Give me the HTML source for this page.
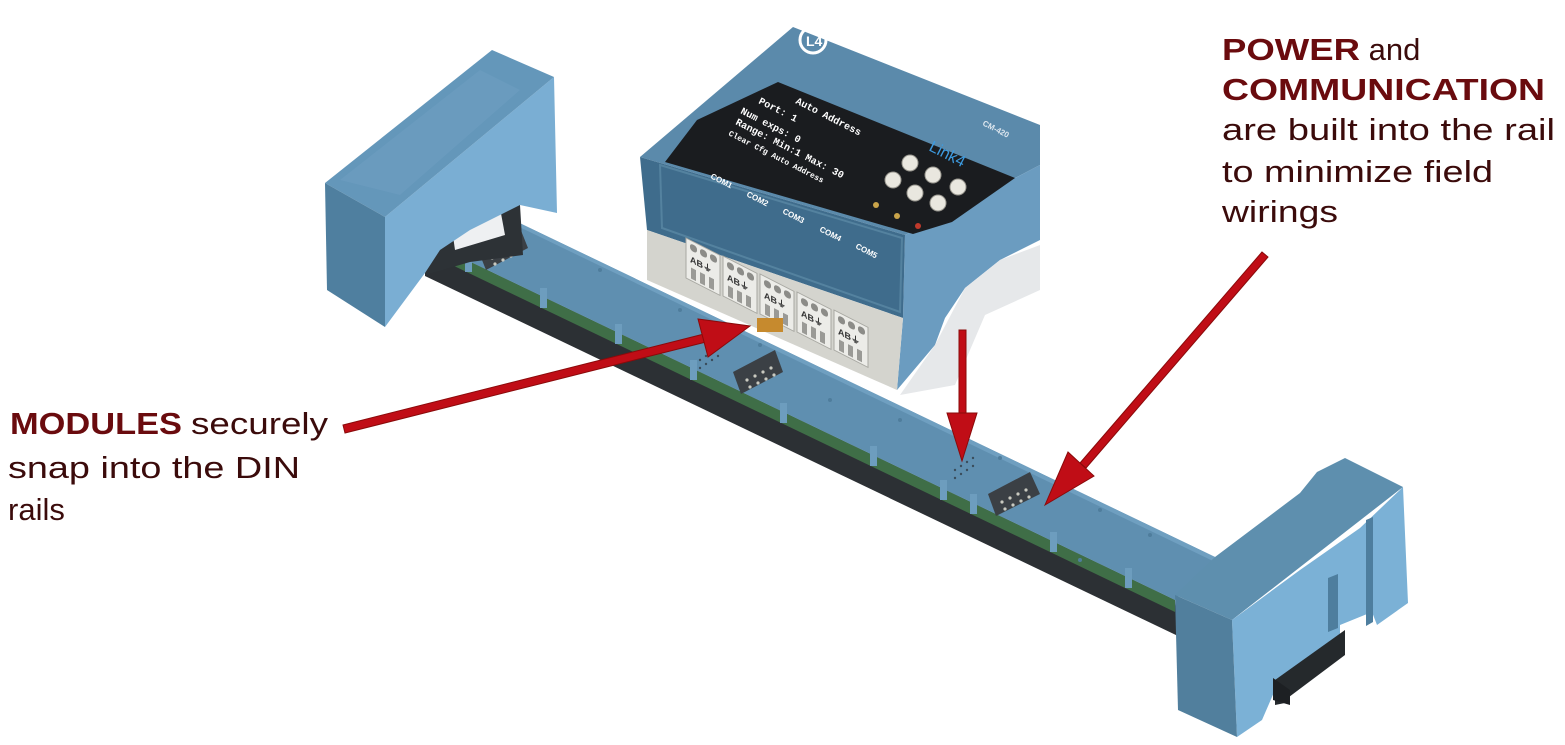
<!DOCTYPE html>
<html><head><meta charset="utf-8"><style>
html,body{margin:0;padding:0;background:#fff;}
svg{display:block;}
</style></head><body>
<svg width="1565" height="745" viewBox="0 0 1565 745" xmlns="http://www.w3.org/2000/svg" font-family="'Liberation Sans', sans-serif">
<rect width="1565" height="745" fill="#fff"/>

<!-- RAIL -->
<polygon points="425,240 1175,600 1178,636 425,276" fill="#2c3034"/>
<polygon points="425,240 1175,600 1175,612 425,252" fill="#3f6e47"/>
<polygon points="430,180 1215,557 1175,600 425,240" fill="#5f8fb0"/>
<polygon points="430,180 1215,557 1213,561 430,184" fill="#6f9fc0"/>
<g fill="#6d9dbe">
<rect x="465" y="252" width="7" height="20"/><rect x="540" y="288" width="7" height="20"/>
<rect x="615" y="324" width="7" height="20"/><rect x="690" y="360" width="7" height="20"/>
<rect x="780" y="403" width="7" height="20"/><rect x="870" y="446" width="7" height="20"/>
<rect x="940" y="480" width="7" height="20"/><rect x="970" y="494" width="7" height="20"/>
<rect x="1050" y="532" width="7" height="20"/><rect x="1125" y="568" width="7" height="20"/>
</g>
<g fill="#4f7d9c">
<circle cx="600" cy="270" r="2"/><circle cx="680" cy="310" r="2"/><circle cx="760" cy="345" r="2"/>
<circle cx="830" cy="400" r="2"/><circle cx="900" cy="420" r="2"/><circle cx="1000" cy="458" r="2"/>
<circle cx="1100" cy="510" r="2"/><circle cx="1150" cy="535" r="2"/><circle cx="1080" cy="560" r="2"/>
</g>
<g fill="#3a4d5c">
<circle cx="955" cy="470" r="1.2"/><circle cx="961" cy="466" r="1.2"/><circle cx="967" cy="462" r="1.2"/><circle cx="973" cy="458" r="1.2"/>
<circle cx="955" cy="478" r="1.2"/><circle cx="961" cy="474" r="1.2"/><circle cx="967" cy="470" r="1.2"/><circle cx="973" cy="466" r="1.2"/>
<circle cx="700" cy="360" r="1.2"/><circle cx="706" cy="356" r="1.2"/><circle cx="712" cy="352" r="1.2"/><circle cx="718" cy="348" r="1.2"/>
<circle cx="700" cy="368" r="1.2"/><circle cx="706" cy="364" r="1.2"/><circle cx="712" cy="360" r="1.2"/><circle cx="718" cy="356" r="1.2"/>
</g>
<g>
<polygon points="478,250 520,228 528,248 486,270" fill="#3b4045"/>
<polygon points="733,372 775,350 783,372 741,394" fill="#3b4045"/>
<polygon points="988,494 1030,472 1040,494 996,516" fill="#3b4045"/>
</g>
<g fill="#c9c9c0">
<circle cx="492" cy="258" r="1.6"/><circle cx="500" cy="254" r="1.6"/><circle cx="508" cy="250" r="1.6"/><circle cx="516" cy="246" r="1.6"/>
<circle cx="495" cy="264" r="1.6"/><circle cx="503" cy="260" r="1.6"/><circle cx="511" cy="256" r="1.6"/><circle cx="519" cy="252" r="1.6"/>
<circle cx="747" cy="380" r="1.6"/><circle cx="755" cy="376" r="1.6"/><circle cx="763" cy="372" r="1.6"/><circle cx="771" cy="368" r="1.6"/>
<circle cx="750" cy="387" r="1.6"/><circle cx="758" cy="383" r="1.6"/><circle cx="766" cy="379" r="1.6"/><circle cx="774" cy="375" r="1.6"/>
<circle cx="1002" cy="502" r="1.6"/><circle cx="1010" cy="498" r="1.6"/><circle cx="1018" cy="494" r="1.6"/><circle cx="1026" cy="490" r="1.6"/>
<circle cx="1005" cy="509" r="1.6"/><circle cx="1013" cy="505" r="1.6"/><circle cx="1021" cy="501" r="1.6"/><circle cx="1029" cy="497" r="1.6"/>
</g>

<!-- LEFT END CAP -->
<polygon points="430,200 520,205 523,255 470,262 425,275" fill="#2d3236"/>
<polygon points="450,215 500,208 505,235 455,250" fill="#eef0f2"/>
<polygon points="385,217 554,77 557,213 520,205 500,215 470,230 440,250 425,273 385,327" fill="#7aaed3"/>
<polygon points="325,183 492,50 554,77 385,217" fill="#6497ba"/>
<polygon points="340,180 480,70 520,90 400,195" fill="#6e9fc2" opacity="0.6"/>
<polygon points="325,183 385,217 385,327 327,290" fill="#4f7f9f"/>

<!-- MODULE -->
<polygon points="640,157 793,27 1040,125 1040,165 905,235" fill="#5b8aab"/>
<polygon points="905,235 1040,165 1040,240 1000,260 965,288 945,318 935,345 897,390 903,318" fill="#6b9cc0"/>
<polygon points="935,345 965,288 1000,260 1040,245 1040,290 985,315 955,385 900,395" fill="#e6e8ea"/>
<polygon points="640,157 905,235 903,318 647,230" fill="#3f6c8c"/>
<polygon points="660,165 902,238 900,312 662,228" fill="none" stroke="#54829f" stroke-width="2"/>
<polygon points="647,230 903,318 897,390 647,280" fill="#d4d4ce"/>
<polygon points="697,120 778,82 1015,178 952,222 913,234 665,162" fill="#1a1c1f"/>
<g fill="#fff" font-family="'Liberation Mono', monospace" font-weight="bold" font-size="10">
<text transform="translate(795,103) rotate(27)">Auto Address</text>
<text transform="translate(758,103) rotate(27)">Port: 1</text>
<text transform="translate(740,113) rotate(27)">Num exps: 0</text>
<text transform="translate(735,124) rotate(27)">Range: Min:1  Max: 30</text>
<text transform="translate(728,135) rotate(27)" font-size="8">Clear Cfg   Auto Address</text>
</g>
<text transform="translate(928,150) rotate(27)" fill="#3d9be0" font-size="16">Link4</text>
<text transform="translate(982,125) rotate(27)" fill="#dde6ee" font-size="8" font-weight="bold">CM-420</text>
<g fill="#e9e7df" stroke="#9a9890" stroke-width="1">
<circle cx="910" cy="163" r="8"/><circle cx="893" cy="180" r="8"/><circle cx="933" cy="175" r="8"/>
<circle cx="915" cy="193" r="8"/><circle cx="958" cy="187" r="8"/><circle cx="938" cy="203" r="8"/>
</g>
<circle cx="876" cy="205" r="3" fill="#c9a44a"/><circle cx="897" cy="216" r="3" fill="#c9a44a"/><circle cx="918" cy="226" r="3" fill="#c0392b"/>
<circle cx="813" cy="40" r="13" fill="none" stroke="#fff" stroke-width="3"/>
<text x="806" y="46" fill="#fff" font-size="14" font-weight="bold">L4</text>
<g fill="#fff" font-size="8" font-weight="bold">
<text transform="translate(710,178) rotate(27)">COM1</text>
<text transform="translate(746,196) rotate(27)">COM2</text>
<text transform="translate(782,213) rotate(27)">COM3</text>
<text transform="translate(819,231) rotate(27)">COM4</text>
<text transform="translate(855,248) rotate(27)">COM5</text>
</g>
<g id="tb">
<g transform="translate(686,238) skewY(27)">
<rect width="34" height="40" fill="#ecece8" stroke="#a8a8a2"/>
<rect x="4" y="3" width="7" height="7" rx="3" fill="#8c8c88"/><rect x="14" y="3" width="7" height="7" rx="3" fill="#8c8c88"/><rect x="24" y="3" width="7" height="7" rx="3" fill="#8c8c88"/>
<text x="4" y="22" font-size="9" font-weight="bold" fill="#333">AB⏚</text>
<rect x="5" y="27" width="5" height="11" fill="#9a9a96"/><rect x="14" y="27" width="5" height="11" fill="#9a9a96"/><rect x="23" y="27" width="5" height="11" fill="#9a9a96"/>
</g>
</g>
<use href="#tb" transform="translate(37,18)"/>
<use href="#tb" transform="translate(74,36)"/>
<use href="#tb" transform="translate(111,54)"/>
<use href="#tb" transform="translate(148,72)"/>
<rect x="757" y="318" width="26" height="14" fill="#c68a2e"/>

<!-- RIGHT END CAP -->
<polygon points="1175,595 1215,557 1300,493 1317,472 1345,458 1403,487 1232,620" fill="#5e8fae"/>
<polygon points="1232,620 1300,570 1360,528 1403,487 1408,603 1377,625 1372,612 1340,625 1340,640 1275,690 1262,720 1237,737" fill="#7bb1d6"/>
<polygon points="1366,520 1373,517 1373,622 1366,626" fill="#4e7e9e"/>
<polygon points="1328,578 1338,574 1338,628 1328,632" fill="#4e7e9e"/>
<polygon points="1275,680 1345,630 1345,655 1285,700 1285,703 1275,705" fill="#25292c"/>
<polygon points="1273,678 1290,690 1290,705 1273,700" fill="#1d2023"/>
<polygon points="1175,595 1232,620 1237,737 1178,710" fill="#517f9d"/>

<!-- ARROWS -->
<g fill="#c00d16" stroke="#8a0a0a" stroke-width="1">
<polygon points="343,425 704,334 706,342 345,433"/>
<polygon points="750,326 708,357 698,319"/>
<rect x="959" y="330" width="7" height="88"/>
<polygon points="962,461 947,413 977,413"/>
<polygon points="1262,252 1268,257 1086,468 1080,463"/>
<polygon points="1045,505 1094,476 1068,452"/>
</g>

<!-- TEXT -->
<g font-size="31">
<text x="1222" y="60"><tspan fill="#6a0b0e" font-weight="bold" textLength="138" lengthAdjust="spacingAndGlyphs">POWER</tspan><tspan fill="#3b0b0b"> and</tspan></text>
<text x="1222" y="100" fill="#6a0b0e" font-weight="bold" textLength="323" lengthAdjust="spacingAndGlyphs">COMMUNICATION</text>
<text x="1222" y="140" fill="#3b0b0b" textLength="333" lengthAdjust="spacingAndGlyphs">are built into the rail</text>
<text x="1222" y="182" fill="#3b0b0b" textLength="271" lengthAdjust="spacingAndGlyphs">to minimize field</text>
<text x="1222" y="222" fill="#3b0b0b" textLength="116" lengthAdjust="spacingAndGlyphs">wirings</text>
<text x="10" y="434"><tspan fill="#6a0b0e" font-weight="bold" textLength="172" lengthAdjust="spacingAndGlyphs">MODULES</tspan><tspan fill="#3b0b0b" dx="9" textLength="137" lengthAdjust="spacingAndGlyphs">securely</tspan></text>
<text x="8" y="478" fill="#3b0b0b" textLength="292" lengthAdjust="spacingAndGlyphs">snap into the DIN</text>
<text x="8" y="520" fill="#3b0b0b">rails</text>
</g>
</svg>
</body></html>
